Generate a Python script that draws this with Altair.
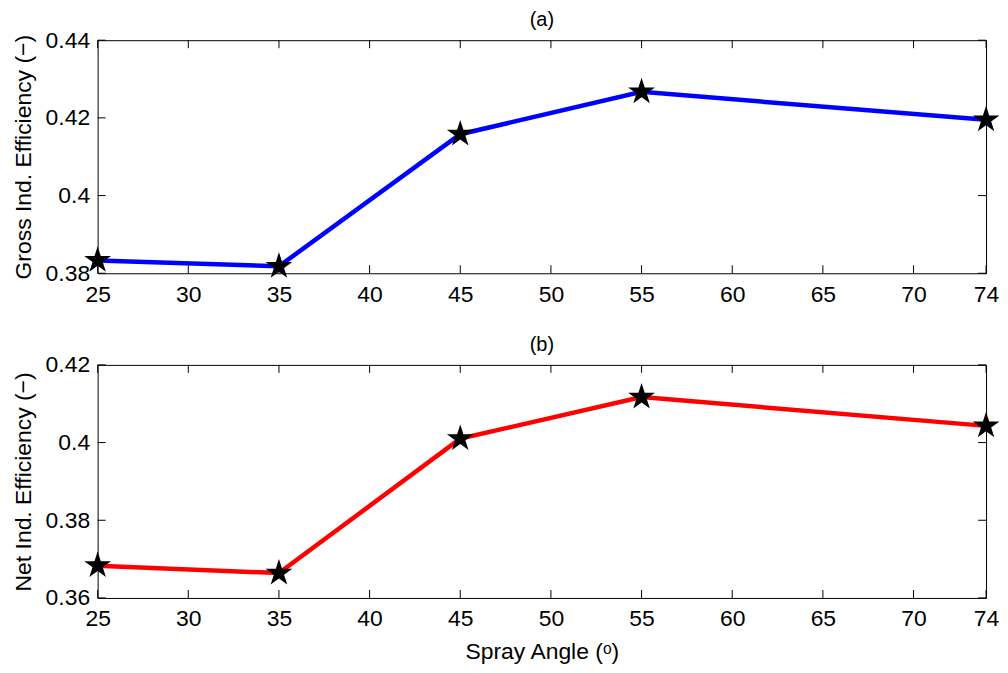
import altair as alt
import pandas as pd

angles = [25, 35, 45, 55, 74]
gross_eff = [0.3833, 0.3818, 0.4158, 0.4267, 0.4195]
net_eff = [0.3683, 0.3664, 0.4010, 0.4117, 0.4043]

x_ticks = [25, 30, 35, 40, 45, 50, 55, 60, 65, 70, 74]
y_ticks_a = [0.38, 0.40, 0.42, 0.44]
y_ticks_b = [0.36, 0.38, 0.40, 0.42]

W, H = 892, 234
FONT = "Liberation Sans"
STAR = "M0,-1L0.2245,-0.309L0.951,-0.309L0.363,0.118L0.588,0.809L0,0.382L-0.588,0.809L-0.363,0.118L-0.951,-0.309L-0.2245,-0.309Z"
TL = 8
FS = 23


def panel(vals, color, ydom, yticks, ytitle, ptitle, show_xtitle):
    df = pd.DataFrame({"x": angles, "y": vals})
    xt = pd.DataFrame({"x": x_ticks})
    yt = pd.DataFrame({"y": yticks})
    xscale = alt.Scale(domain=[25, 74], nice=False, zero=False)
    yscale = alt.Scale(domain=ydom, nice=False, zero=False)
    common = dict(ticks=False, domain=False, grid=False,
                  labelFont=FONT, labelFontSize=FS, labelColor="black",
                  titleFont=FONT, titleFontSize=FS, titleColor="black",
                  titleFontWeight="normal")
    xaxis = alt.Axis(values=x_ticks, labelFlush=False, labelPadding=10,
                     title="Spray Angle (ᵒ)" if show_xtitle else None,
                     titlePadding=10, **common)
    yaxis = alt.Axis(values=yticks, format="~g", labelPadding=8, title=ytitle,
                     titlePadding=10, **common)
    X = lambda: alt.X("x:Q", scale=xscale, axis=xaxis)
    Y = lambda: alt.Y("y:Q", scale=yscale, axis=yaxis)

    line = alt.Chart(df).mark_line(color=color, strokeWidth=4.5).encode(x=X(), y=Y())
    pts = alt.Chart(df).mark_point(shape=STAR, size=800, filled=True, color="black",
                                   opacity=1).encode(x=X(), y=Y())
    xt_bot = alt.Chart(xt).mark_rule(color="black", strokeWidth=1).encode(
        x=X(), y=alt.value(H), y2=alt.value(H - TL))
    xt_top = alt.Chart(xt).mark_rule(color="black", strokeWidth=1).encode(
        x=X(), y=alt.value(0), y2=alt.value(TL))
    yt_l = alt.Chart(yt).mark_rule(color="black", strokeWidth=1).encode(
        y=Y(), x=alt.value(0), x2=alt.value(TL))
    yt_r = alt.Chart(yt).mark_rule(color="black", strokeWidth=1).encode(
        y=Y(), x=alt.value(W), x2=alt.value(W - TL))
    return alt.layer(xt_bot, xt_top, yt_l, yt_r, line, pts).properties(
        width=W, height=H,
        title=alt.TitleParams(ptitle, fontSize=20, font=FONT, fontWeight="normal",
                              color="black", offset=-1))


top = panel(gross_eff, "#0000FF", [0.38, 0.44], y_ticks_a,
            "Gross Ind. Efficiency (−)", "(a)", False)
bot = panel(net_eff, "#FF0000", [0.36, 0.42], y_ticks_b,
            "Net Ind. Efficiency (−)", "(b)", True)

chart = alt.vconcat(
    top, bot, spacing=27, background="white",
    padding={"left": 3, "top": 0, "right": 0, "bottom": 0}
).configure_view(stroke="black", strokeWidth=1)

chart.save("out.html", embed_options={"renderer": "svg", "actions": False})
